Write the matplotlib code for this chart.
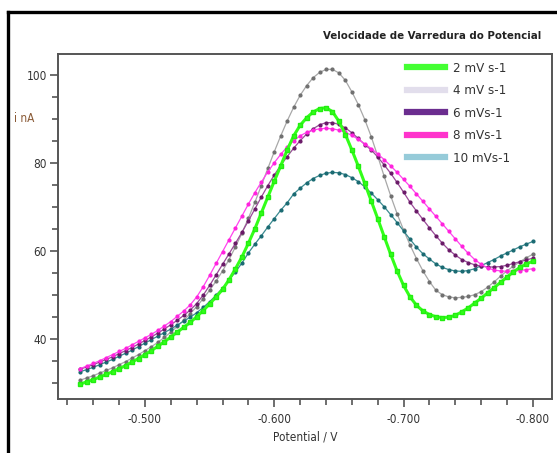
import numpy as np
import matplotlib.pyplot as plt
from matplotlib.lines import Line2D
from matplotlib.ticker import MultipleLocator, FixedLocator

plt.rcParams['font.family'] = ['DejaVu Sans']
plt.rcParams['font.stretch'] = 'condensed'

# potential (V), 5 mV steps from -0.450 to -0.800
potential = -np.arange(450, 801, 5) / 1000.0

i_2mv = [29.8, 30.3, 30.8, 31.4, 32.0, 32.6, 33.3, 34.0, 34.8, 35.6,
         36.5, 37.4, 38.4, 39.4, 40.5, 41.6, 42.7, 43.8, 45.1, 46.5,
         48.0, 49.6, 51.3, 53.5, 56.0, 58.7, 61.8, 65.1, 68.7, 72.3,
         75.9, 79.4, 83.0, 86.2, 88.6, 90.3, 91.6, 92.4, 92.6, 91.7,
         89.5, 86.5, 83.0, 79.3, 75.4, 71.4, 67.4, 63.3, 59.3, 55.5,
         52.2, 49.6, 47.7, 46.4, 45.6, 45.1, 44.9, 45.0, 45.4, 46.2,
         47.1, 48.2, 49.3, 50.5, 51.7, 52.9, 54.1, 55.3, 56.3, 57.1,
         57.7]
i_4mv = [30.7, 31.2, 31.7, 32.3, 32.9, 33.5, 34.2, 34.9, 35.7, 36.5,
         37.4, 38.3, 39.3, 40.4, 41.6, 42.9, 44.3, 45.8, 47.4, 49.2,
         51.1, 53.2, 55.5, 58.1, 61.0, 64.1, 67.5, 71.1, 74.9, 78.8,
         82.6, 86.2, 89.6, 92.7, 95.4, 97.6, 99.4, 100.6, 101.3, 101.3,
         100.5, 98.8, 96.2, 93.3, 89.9, 86.0, 81.6, 77.0, 72.6, 68.5,
         64.8, 61.4, 58.3, 55.5, 53.1, 51.1, 50.1, 49.6, 49.4, 49.5,
         49.7, 50.1, 50.8, 51.8, 53.0, 54.3, 55.5, 56.6, 57.6, 58.5,
         59.3]
i_6mv = [33.2, 33.7, 34.2, 34.8, 35.4, 36.0, 36.7, 37.4, 38.1, 38.9,
         39.7, 40.5, 41.4, 42.3, 43.3, 44.3, 45.4, 46.6, 48.1, 50.0,
         52.2, 54.6, 57.0, 59.4, 61.8, 64.3, 66.9, 69.6, 72.3, 74.9,
         77.3, 79.5, 81.5, 83.4, 85.1, 86.6, 87.8, 88.7, 89.2, 89.2,
         88.8, 88.0, 86.9, 85.6, 84.2, 83.0, 81.4, 79.6, 77.7, 75.6,
         73.4, 71.1, 69.1, 67.2, 65.3, 63.5, 61.8, 60.3, 59.1, 58.1,
         57.4, 56.9, 56.6, 56.4, 56.4, 56.5, 56.8, 57.2, 57.6, 58.0,
         58.4]
i_8mv = [33.3, 33.9, 34.5, 35.1, 35.8, 36.5, 37.2, 37.9, 38.7, 39.5,
         40.3, 41.1, 42.0, 43.0, 44.0, 45.2, 46.4, 47.8, 49.6, 51.9,
         54.5, 57.2, 59.9, 62.6, 65.3, 68.0, 70.7, 73.3, 75.7, 78.0,
         80.1, 82.0, 83.7, 85.1, 86.2, 87.0, 87.5, 87.8, 87.9, 87.8,
         87.5, 87.0, 86.3, 85.4, 84.4, 83.3, 82.1, 80.8, 79.4, 77.9,
         76.3, 74.7, 73.0, 71.3, 69.6, 67.9, 66.2, 64.5, 62.8, 61.1,
         59.5, 58.1, 57.0, 56.2, 55.7, 55.5, 55.4, 55.5, 55.6, 55.8,
         56.0]
i_10mv = [32.6, 33.1, 33.6, 34.2, 34.8, 35.4, 36.1, 36.8, 37.5, 38.3,
          39.1, 39.9, 40.7, 41.5, 42.3, 43.2, 44.1, 45.0, 46.0, 47.2,
          48.5, 50.0, 51.6, 53.4, 55.3, 57.3, 59.6, 61.6, 63.5, 65.5,
          67.4, 69.3, 71.0, 73.0, 74.3, 75.5, 76.5, 77.2, 77.7, 77.9,
          77.8, 77.4, 76.7, 75.8, 74.6, 73.2, 71.7, 70.1, 68.3, 66.5,
          64.6, 62.7, 60.9, 59.4, 58.2, 57.1, 56.3, 55.8, 55.5, 55.4,
          55.6, 56.0, 56.7, 57.4, 58.1, 58.9, 59.6, 60.3, 61.0, 61.6,
          62.2]

labels = ['2 mV s-1', '4 mV s-1', '6 mVs-1', '8 mVs-1', '10 mVs-1']
legend_colors = ['#44ff33', '#e2deec', '#6b2d8f', '#ff33cc', '#96cbd9']

fig = plt.figure(figsize=(5.57, 4.53), dpi=100)
ax = fig.add_axes([0.1041, 0.1192, 0.8869, 0.7616])

ax.plot(potential, i_2mv, color='#33ff1a', lw=2.2, marker='s', ms=2.2,
        mec='#22ee10', zorder=5)
ax.plot(potential, i_4mv, color='#a8a8a8', lw=0.9, marker='o', ms=2.0,
        mfc='#707070', mec='#707070', zorder=3)
ax.plot(potential, i_6mv, color='#9a4a98', lw=0.9, marker='o', ms=2.0,
        mfc='#6a1a68', mec='#6a1a68', zorder=4)
ax.plot(potential, i_8mv, color='#ff44ee', lw=0.9, marker='o', ms=2.0,
        mfc='#ff22dd', mec='#ff22dd', zorder=4)
ax.plot(potential, i_10mv, color='#3a8a90', lw=0.9, marker='o', ms=2.0,
        mfc='#1a6a72', mec='#1a6a72', zorder=3)

ax.set_xlim(-0.4327, -0.8148)
ax.set_ylim(26.4, 104.8)

ax.xaxis.set_major_locator(FixedLocator([-0.5, -0.6, -0.7, -0.8]))
ax.xaxis.set_minor_locator(MultipleLocator(0.02))
ax.yaxis.set_major_locator(FixedLocator([40, 60, 80, 100]))
ax.yaxis.set_minor_locator(MultipleLocator(5))
ax.set_xticklabels(['-0.500', '-0.600', '-0.700', '-0.800'])

ax.tick_params(axis='both', which='major', direction='out', length=6,
               width=1.2, color='#555555', labelsize=8.5, labelcolor='#333333')
ax.tick_params(axis='both', which='minor', direction='out', length=4,
               width=1.2, color='#555555')
ax.tick_params(axis='x', pad=4)
ax.tick_params(axis='y', pad=2)
for s in ax.spines.values():
    s.set_color('#555555')
    s.set_linewidth(1.4)

ax.set_xlabel('Potential / V', fontsize=8.5, color='#333333', labelpad=3)
fig.text(0.025, 0.739, 'i nA', fontsize=8.5, color='#8a5a36', va='center')
fig.text(0.776, 0.921, 'Velocidade de Varredura do Potencial', fontsize=8.2,
         color='#222222', ha='center', va='center', fontweight='bold')

handles = [Line2D([], [], color=c, lw=4.5) for c in legend_colors]
ax.legend(handles, labels, loc='upper left', bbox_to_anchor=(0.682, 1.012),
          frameon=False, fontsize=9.5, handlelength=2.9, handletextpad=0.6,
          labelspacing=0.72, labelcolor='#333333')

# outer frame around the figure
fig.add_artist(Line2D([8 / 557, 8 / 557], [0, 1 - 12 / 453], color='black',
                      lw=2.4, transform=fig.transFigure))
fig.add_artist(Line2D([8 / 557, 1], [1 - 12 / 453, 1 - 12 / 453], color='black',
                      lw=2.4, transform=fig.transFigure))

fig.savefig('out.png', dpi=100)
